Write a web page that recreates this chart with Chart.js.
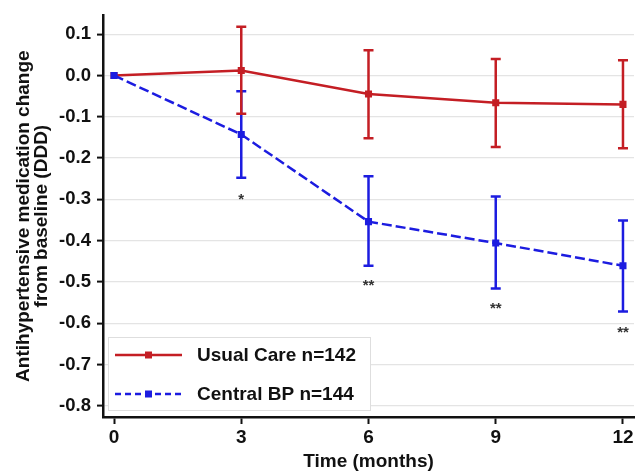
<!DOCTYPE html>
<html>
<head>
<meta charset="utf-8">
<script src="https://cdn.jsdelivr.net/npm/chart.js@4.4.0/dist/chart.umd.min.js"></script>
<style>
  html, body { margin: 0; padding: 0; background: #fff; }
  #wrap { width: 639px; height: 471px; }
</style>
</head>
<body>
<div id="wrap"><canvas id="Chart" width="639" height="471"></canvas></div>
<script>
const months = [0, 3, 6, 9, 12];
const xTicks = [0, 3, 6, 9, 12];
const yTicks = [0.1, 0, -0.1, -0.2, -0.3, -0.4, -0.5, -0.6, -0.7, -0.8];

const usualLabel = "Usual Care n=142";
const usualMean = [0, 0.012, -0.045, -0.066, -0.070];
const usualUpper = [null, 0.118, 0.061, 0.040, 0.037];
const usualLower = [null, -0.093, -0.152, -0.173, -0.176];

const centralLabel = "Central BP n=144";
const centralMean = [0, -0.143, -0.354, -0.406, -0.461];
const centralUpper = [null, -0.038, -0.244, -0.293, -0.351];
const centralLower = [null, -0.248, -0.461, -0.516, -0.572];

// significance marks under the Central BP bars
const sigMonths = [3, 6, 9, 12];
const sigText = ["*", "**", "**", "**"];
const sigValue = [-0.295, -0.505, -0.560, -0.617];

const RED = "#c41e24";
const BLUE = "#1c1ce0";
const FONT = "'Liberation Sans', Arial, sans-serif";

Chart.defaults.font.family = FONT;
Chart.defaults.color = "#111";

const ctx = document.getElementById("Chart");

const toPoints = (ys) => months.map((m, i) => ({ x: m, y: ys[i] }));

// vertical error bars with caps
const errorBars = {
  id: "errorBars",
  beforeDatasetsDraw(chart) {
    const c = chart.ctx;
    const xs = chart.scales.x;
    const ys = chart.scales.y;
    const sets = [
      { upper: centralUpper, lower: centralLower, color: BLUE },
      { upper: usualUpper, lower: usualLower, color: RED },
    ];
    c.save();
    c.lineWidth = 2.5;
    sets.forEach((s) => {
      c.strokeStyle = s.color;
      months.forEach((m, i) => {
        if (s.upper[i] == null) return;
        const x = xs.getPixelForValue(m);
        const y1 = ys.getPixelForValue(s.upper[i]);
        const y2 = ys.getPixelForValue(s.lower[i]);
        c.beginPath();
        c.moveTo(x, y1);
        c.lineTo(x, y2);
        c.moveTo(x - 5, y1);
        c.lineTo(x + 5, y1);
        c.moveTo(x - 5, y2);
        c.lineTo(x + 5, y2);
        c.stroke();
      });
    });
    c.restore();
  },
  afterDatasetsDraw(chart) {
    const c = chart.ctx;
    const xs = chart.scales.x;
    const ys = chart.scales.y;
    c.save();
    c.fillStyle = "#333";
    c.font = "bold 15px " + FONT;
    c.textAlign = "center";
    c.textBaseline = "alphabetic";
    sigMonths.forEach((m, i) => {
      c.fillText(sigText[i], xs.getPixelForValue(m), ys.getPixelForValue(sigValue[i]) + 6.5);
    });
    c.restore();
  },
};

// legend box inside the plot, lower left
const boxLegend = {
  id: "boxLegend",
  afterDraw(chart) {
    const c = chart.ctx;
    const left = chart.chartArea.left + 5;
    const top = chart.chartArea.bottom - 80;
    const items = [chart.data.datasets[1], chart.data.datasets[0]];
    c.save();
    c.fillStyle = "#fff";
    c.strokeStyle = "#dedede";
    c.lineWidth = 1;
    c.fillRect(left, top, 262, 73);
    c.strokeRect(left + 0.5, top + 0.5, 262, 73);
    items.forEach((ds, i) => {
      const y = top + 18 + i * 39;
      c.strokeStyle = ds.borderColor;
      c.fillStyle = ds.borderColor;
      c.lineWidth = 2.5;
      c.setLineDash(i === 1 ? [6, 4] : []);
      c.beginPath();
      c.moveTo(left + 7, y);
      c.lineTo(left + 74, y);
      c.stroke();
      c.setLineDash([]);
      c.fillRect(left + 37, y - 3.5, 7, 7);
      c.fillStyle = "#111";
      c.font = "bold 19px " + FONT;
      c.textAlign = "left";
      c.textBaseline = "middle";
      c.fillText(ds.label, left + 89, y + 1);
    });
    c.restore();
  },
};

const chart = new Chart(ctx, {
  type: "line",
  data: {
    datasets: [
      {
        label: centralLabel,
        data: toPoints(centralMean),
        borderColor: BLUE,
        backgroundColor: BLUE,
        borderWidth: 2.5,
        borderDash: [10, 4],
        pointStyle: "rect",
        pointRadius: 5,
        pointBorderWidth: 0,
        tension: 0,
        order: 0,
      },
      {
        label: usualLabel,
        data: toPoints(usualMean),
        borderColor: RED,
        backgroundColor: RED,
        borderWidth: 2.5,
        pointStyle: "rect",
        pointRadius: 5,
        pointBorderWidth: 0,
        tension: 0,
        order: 1,
      },
    ],
  },
  options: {
    responsive: false,
    animation: false,
    layout: { padding: { top: 14, right: 1, left: 0, bottom: 0 } },
    plugins: {
      legend: { display: false },
      tooltip: { enabled: false },
    },
    scales: {
      x: {
        type: "linear",
        min: -0.26,
        max: 12.26,
        afterBuildTicks: (s) => { s.ticks = xTicks.map((v) => ({ value: v })); },
        afterFit: (s) => { s.height = 54; },
        border: { color: "#111", width: 2.5 },
        grid: { drawOnChartArea: false, tickLength: 7, tickColor: "#111", tickWidth: 2 },
        ticks: {
          autoSkip: false,
          maxRotation: 0,
          padding: 4,
          color: "#111",
          font: { size: 19, weight: "bold", lineHeight: 1 },
        },
        title: {
          display: true,
          text: "Time (months)",
          color: "#111",
          padding: { top: 0, bottom: 0 },
          font: { size: 19, weight: "bold", lineHeight: 1 },
        },
      },
      y: {
        type: "linear",
        min: -0.8273,
        max: 0.1459,
        afterBuildTicks: (s) => { s.ticks = yTicks.map((v) => ({ value: v })); },
        afterFit: (s) => { s.width = 103; },
        border: { color: "#111", width: 2.5 },
        grid: { color: "#e4e4e4", lineWidth: 1.2, tickLength: 6, tickColor: "#111", tickWidth: 2 },
        ticks: {
          padding: 6,
          color: "#111",
          font: { size: 18.5, weight: "bold", lineHeight: 1 },
          callback: (v) => v.toFixed(1),
        },
        title: {
          display: true,
          text: ["Antihypertensive medication change", "from baseline (DDD)"],
          color: "#111",
          padding: { top: 15, bottom: 0 },
          font: { size: 19, weight: "bold", lineHeight: 0.95 },
        },
      },
    },
  },
  plugins: [errorBars, boxLegend],
});
</script>
</body>
</html>
